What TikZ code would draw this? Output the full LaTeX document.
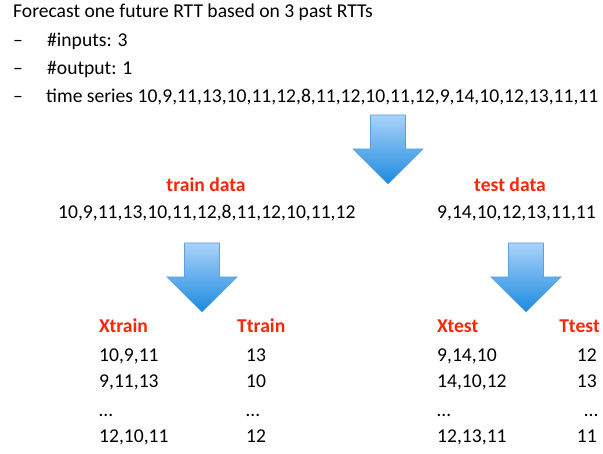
\documentclass[tikz,border=0pt]{standalone}
\usepackage{fontspec}
\setmainfont{Carlito}
\usepackage{tikz}

\definecolor{hdred}{RGB}{250,38,8}
\definecolor{arrtop}{RGB}{168,210,250}
\definecolor{arrbot}{RGB}{28,138,222}
\definecolor{arredge}{RGB}{95,160,220}

\begin{document}
\begin{tikzpicture}[x=1pt,y=-1pt,
  txt/.style={inner sep=0pt, font=\fontsize{19.6}{23}\selectfont},
  hd/.style={inner sep=0pt, font=\fontsize{19.6}{23}\selectfont\bfseries, text=hdred},
  bigarrow/.style={draw=arredge, line width=0.6pt, top color=arrtop, bottom color=arrbot}]
\useasboundingbox (0,0) rectangle (603,454);

% Problem statement
\node[txt, anchor=base west] (title) at (13,18) {Forecast one future RTT based on 3 past RTTs};
\node[txt, anchor=base west] (dsha) at (13,47) {–};
\node[txt, anchor=base west] (inputs) at (47,47) {\#inputs: 3};
\node[txt, anchor=base west] (dshb) at (13,75) {–};
\node[txt, anchor=base west] (output) at (47,75) {\#output: 1};
\node[txt, anchor=base west] (dshc) at (13,103) {–};
\node[txt, anchor=base west] (series) at (46,103) {time series 10,9,11,13,10,11,12,8,11,12,10,11,12,9,14,10,12,13,11,11};

% Split arrows
\foreach \cx/\ty in {388/115, 202/243, 526/243}
  \draw[bigarrow] (\cx-17.5,\ty) -- (\cx+17.5,\ty) -- (\cx+17.5,\ty+34)
    -- (\cx+35,\ty+34) -- (\cx,\ty+69) -- (\cx-35,\ty+34) -- (\cx-17.5,\ty+34) -- cycle;

% Train split
\node[hd, anchor=base] (trainhd) at (206,192) {train data};
\node[txt, anchor=base west] (trainseq) at (58,219) {10,9,11,13,10,11,12,8,11,12,10,11,12};

% Test split
\node[hd, anchor=base] (testhd) at (510,192) {test data};
\node[txt, anchor=base west] (testseq) at (437,219) {9,14,10,12,13,11,11};

% Train table
\node[hd, anchor=base west] (xtrain) at (99,333) {Xtrain};
\node[hd, anchor=base west] (ttrain) at (237,333) {Ttrain};
\node[txt, anchor=base west] (xtra) at (99,362) {10,9,11};
\node[txt, anchor=base west] (xtrb) at (99,388) {9,11,13};
\node[txt, anchor=base west] (xtrc) at (99,417) {…};
\node[txt, anchor=base west] (xtrd) at (99,443) {12,10,11};
\node[txt, anchor=base west] (ttra) at (246,362) {13};
\node[txt, anchor=base west] (ttrb) at (246,388) {10};
\node[txt, anchor=base west] (ttrc) at (246,417) {…};
\node[txt, anchor=base west] (ttrd) at (246,443) {12};

% Test table
\node[hd, anchor=base west] (xtest) at (437,333) {Xtest};
\node[hd, anchor=base east] (ttest) at (600,333) {Ttest};
\node[txt, anchor=base west] (xtea) at (437,362) {9,14,10};
\node[txt, anchor=base west] (xteb) at (437,388) {14,10,12};
\node[txt, anchor=base west] (xtec) at (437,417) {…};
\node[txt, anchor=base west] (xted) at (437,443) {12,13,11};
\node[txt, anchor=base east] (ttea) at (597,362) {12};
\node[txt, anchor=base east] (tteb) at (597,388) {13};
\node[txt, anchor=base east] (ttec) at (598,417) {…};
\node[txt, anchor=base east] (tted) at (597,443) {11};
\end{tikzpicture}
\end{document}
